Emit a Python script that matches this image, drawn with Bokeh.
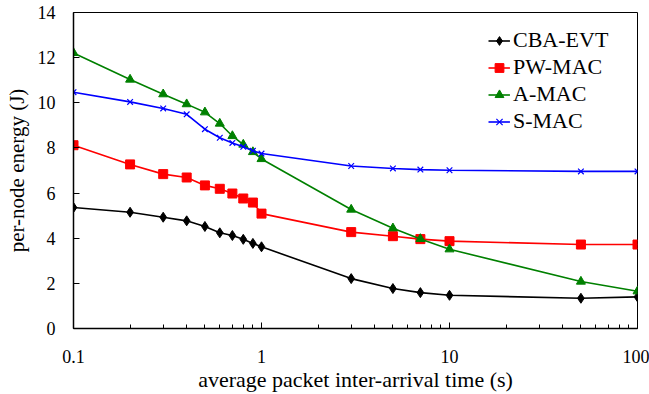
from bokeh.plotting import figure
from bokeh.models import FixedTicker, CustomJSTickFormatter, Legend
from bokeh.embed import file_html
from bokeh.resources import INLINE

x = [0.1, 0.2, 0.3, 0.4, 0.5, 0.6, 0.7, 0.8, 0.9, 1, 3, 5, 7, 10, 50, 100]
cba_evt = [5.36, 5.15, 4.93, 4.77, 4.52, 4.24, 4.12, 3.95, 3.77, 3.62, 2.21, 1.77, 1.59, 1.47, 1.34, 1.40]
pw_mac = [8.12, 7.27, 6.84, 6.69, 6.34, 6.19, 5.98, 5.76, 5.58, 5.09, 4.27, 4.09, 3.96, 3.87, 3.72, 3.72]
a_mac = [12.21, 11.03, 10.38, 9.94, 9.58, 9.08, 8.53, 8.15, 7.82, 7.51, 5.27, 4.44, 3.97, 3.51, 2.08, 1.65]
s_mac = [10.47, 10.04, 9.75, 9.49, 8.83, 8.45, 8.22, 8.05, 7.87, 7.75, 7.20, 7.09, 7.04, 7.01, 6.96, 6.96]

x_major = [0.1, 1, 10, 100]
x_minor = [0.2, 0.3, 0.4, 0.5, 0.6, 0.7, 0.8, 0.9, 2, 3, 4, 5, 6, 7, 8, 9,
           20, 30, 40, 50, 60, 70, 80, 90]
y_ticks = [0, 2, 4, 6, 8, 10, 12, 14]

FONT = "'Liberation Serif', 'Times New Roman', serif"

p = figure(width=649, height=394, x_axis_type="log", x_range=(0.1, 100), y_range=(0, 14),
           output_backend="svg", toolbar_location=None,
           min_border_left=73, min_border_right=12, min_border_top=12, min_border_bottom=66)
p.xgrid.visible = False
p.ygrid.visible = False
p.outline_line_color = "black"
p.outline_line_width = 1
p.background_fill_color = "white"
p.border_fill_color = "white"

p.xaxis.ticker = FixedTicker(ticks=x_major, minor_ticks=x_minor)
p.xaxis.formatter = CustomJSTickFormatter(code="return String(tick);")
p.yaxis.ticker = FixedTicker(ticks=y_ticks)

for ax in (p.xaxis[0], p.yaxis[0]):
    ax.axis_line_color = "black"
    ax.axis_line_width = 1.5
    ax.major_tick_line_color = "black"
    ax.minor_tick_line_color = "black"
    ax.major_tick_in = 6
    ax.major_tick_out = 0
    ax.minor_tick_in = 4
    ax.minor_tick_out = 0
    ax.major_label_text_font = FONT
    ax.major_label_text_font_size = "18px"
    ax.major_label_text_color = "black"
    ax.axis_label_text_font = FONT
    ax.axis_label_text_font_style = "normal"
    ax.axis_label_text_color = "black"

p.xaxis.axis_label_text_font_size = "22px"
p.yaxis.axis_label_text_font_size = "21px"
p.xaxis.major_label_standoff = 21
p.xaxis.axis_label_standoff = 1
p.yaxis.major_label_standoff = 18
p.yaxis.axis_label_standoff = 6
p.xaxis.axis_label = "average packet inter-arrival time (s)"
p.yaxis.axis_label = "per-node energy (J)"

series = [
    ("CBA-EVT", cba_evt, "black", "diamond", 10),
    ("PW-MAC", pw_mac, "red", "square", 9),
    ("A-MAC", a_mac, "green", "triangle", 9),
    ("S-MAC", s_mac, "blue", "x", 8),
]
items = []
for name, ys, col, mk, sz in series:
    r1 = p.line(x, ys, line_color=col, line_width=1.6)
    if mk == "x":
        r2 = p.scatter(x, ys, marker=mk, size=sz, line_color=col, line_width=1.2)
    else:
        r2 = p.scatter(x, ys, marker=mk, size=sz, fill_color=col, line_color=col)
    items.append((name, [r1, r2]))

legend = Legend(items=items, location=(415, 194), padding=0, margin=0,
                spacing=1, glyph_width=22, glyph_height=25, label_height=25,
                label_standoff=3, border_line_color=None, background_fill_alpha=0,
                label_text_font=FONT, label_text_font_size="22px", label_text_color="black")
p.add_layout(legend)

open("out.html", "w").write(file_html(p, INLINE))
